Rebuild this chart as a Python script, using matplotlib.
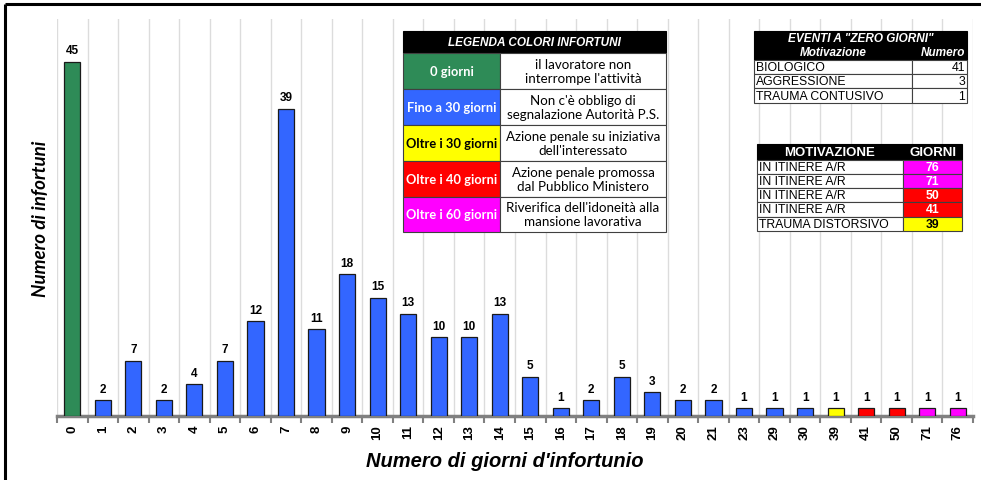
import matplotlib.pyplot as plt
from matplotlib.patches import Rectangle
from matplotlib.ticker import FixedLocator
import numpy as np

# giorni di infortunio e numero di infortuni
giorni = ['0', '1', '2', '3', '4', '5', '6', '7', '8', '9', '10', '11', '12', '13', '14',
          '15', '16', '17', '18', '19', '20', '21', '23', '29', '30', '39', '41', '50', '71', '76']
infortuni = [45, 2, 7, 2, 4, 7, 12, 39, 11, 18, 15, 13, 10, 10, 13,
             5, 1, 2, 5, 3, 2, 2, 1, 1, 1, 1, 1, 1, 1, 1]

# legenda colori
leg_classi = ['0 giorni', 'Fino a 30 giorni', 'Oltre i 30 giorni', 'Oltre i 40 giorni', 'Oltre i 60 giorni']
leg_descr = ["il lavoratore non\ninterrompe l'attività",
             "Non c'è obbligo di\nsegnalazione Autorità P.S.",
             "Azione penale su iniziativa\ndell'interessato",
             "Azione penale promossa\ndal Pubblico Ministero",
             "Riverifica dell'idoneità alla\nmansione lavorativa"]

# eventi a zero giorni
zero_motivi = ['BIOLOGICO', 'AGGRESSIONE', 'TRAUMA CONTUSIVO']
zero_numero = [41, 3, 1]

# infortuni piu lunghi
lunghi_motivi = ['IN ITINERE A/R', 'IN ITINERE A/R', 'IN ITINERE A/R', 'IN ITINERE A/R', 'TRAUMA DISTORSIVO']
lunghi_giorni = [76, 71, 50, 41, 39]

GREEN = '#2E8B57'
BLUE = '#3366FF'
YELLOW = '#FFFF00'
RED = '#FF0000'
MAGENTA = '#FF00FF'
leg_colori = [GREEN, BLUE, YELLOW, RED, MAGENTA]
leg_testo = ['white', 'white', 'black', 'white', 'white']


def colore(g):
    g = int(g)
    if g == 0:
        return GREEN
    if g <= 30:
        return BLUE
    if g < 40:
        return YELLOW
    if g < 60:
        return RED
    return MAGENTA


fig = plt.figure(figsize=(9.81, 4.81), dpi=100)
ax = fig.add_axes([57 / 981, 64 / 481, (973 - 57) / 981, (461 - 64) / 481])

x = np.arange(len(giorni))
colori = [colore(g) for g in giorni]
bars = ax.bar(x, infortuni, width=0.53, color=colori, edgecolor='#1a1a1a', linewidth=0.9, zorder=3)
for b, v in zip(bars, infortuni):
    ax.annotate(str(v), (b.get_x() + b.get_width() / 2, v), xytext=(0, 4), textcoords='offset points',
                ha='center', va='bottom', fontsize=8.5, fontweight='bold', family='Liberation Sans')

ax.set_xlim(-0.5, len(giorni) - 0.5)
ax.set_ylim(0, 50.4)
ax.set_xticks(x)
ax.set_xticklabels(giorni, rotation=90, fontsize=9.5, fontweight='bold', family='Liberation Sans')
ax.tick_params(axis='x', which='major', length=0, pad=6)
ax.xaxis.set_minor_locator(FixedLocator(np.arange(-0.5, len(giorni), 1)))
ax.tick_params(axis='x', which='minor', length=5, width=1.5, color='#808080')
ax.set_yticks([])
for s in ['top', 'right', 'left']:
    ax.spines[s].set_visible(False)
ax.spines['bottom'].set_color('#808080')
ax.spines['bottom'].set_linewidth(2.5)
ax.grid(axis='x', which='minor', color='#DCDCDC', linewidth=1, zorder=0)

ax.set_xlabel("Numero di giorni d'infortunio", fontsize=14.5, fontweight='bold', style='italic',
              family='Liberation Sans')
ax.xaxis.set_label_coords(0.489, -0.088)
ax.set_ylabel('Numero di infortuni', fontsize=13.5, fontweight='bold', style='italic',
              family='Lato', labelpad=6)

# overlay in pixel per tabelle e cornice
ov = fig.add_axes([0, 0, 1, 1], facecolor='none')
ov.set_xlim(0, 981)
ov.set_ylim(481, 0)
ov.axis('off')

# cornice
ov.plot([5, 981], [5, 5], color='black', lw=2.2, solid_capstyle='butt')
ov.plot([5, 5], [5, 481], color='black', lw=2.2, solid_capstyle='butt')


def cella(x0, y0, x1, y1, fc, ec='#404040', lw=0.8):
    ov.add_patch(Rectangle((x0, y0), x1 - x0, y1 - y0, facecolor=fc, edgecolor=ec, linewidth=lw, zorder=5))


# legenda colori
lx0, lx1, lxs = 403, 666, 500
cella(lx0, 32, lx1, 54, 'black', ec='black')
ov.text((lx0 + lx1) / 2, 43, 'LEGENDA COLORI INFORTUNI', color='white', ha='center', va='center',
        fontsize=8.5, style='italic', fontweight='bold', family='Liberation Sans', zorder=6)
righe = [54, 90, 126, 162, 198, 233]
for i in range(len(leg_classi)):
    y0, y1 = righe[i], righe[i + 1]
    cella(lx0, y0, lxs, y1, leg_colori[i])
    cella(lxs, y0, lx1, y1, 'white')
    ov.text((lx0 + lxs) / 2, (y0 + y1) / 2, leg_classi[i], color=leg_testo[i], ha='center', va='center',
            fontsize=9.3, fontweight='bold', family='Lato', zorder=6)
    ov.text((lxs + lx1) / 2, (y0 + y1) / 2, leg_descr[i], color='black', ha='center', va='center',
            fontsize=9.6, family='Lato', linespacing=1.2, zorder=6)

# eventi a zero giorni
zx0, zx1, zxs = 754, 967, 912
cella(zx0, 32, zx1, 61, 'black', ec='black')
ov.text((zx0 + zx1) / 2, 39, 'EVENTI A "ZERO GIORNI"', color='white', ha='center', va='center',
        fontsize=8.5, style='italic', fontweight='bold', family='Liberation Sans', zorder=6)
ov.text((zx0 + zxs) / 2, 53, 'Motivazione', color='white', ha='center', va='center',
        fontsize=8.5, style='italic', fontweight='bold', family='Liberation Sans', zorder=6)
ov.text(zx1 - 2, 53, 'Numero', color='white', ha='right', va='center',
        fontsize=8.5, style='italic', fontweight='bold', family='Liberation Sans', zorder=6)
zr = [61, 75, 89, 104]
for i in range(len(zero_motivi)):
    y0, y1 = zr[i], zr[i + 1]
    cella(zx0, y0, zxs, y1, 'white')
    cella(zxs, y0, zx1, y1, 'white')
    ov.text(zx0 + 2, (y0 + y1) / 2, zero_motivi[i], ha='left', va='center', fontsize=8.8,
            family='Liberation Sans', zorder=6)
    ov.text(zx1 - 2, (y0 + y1) / 2, str(zero_numero[i]), ha='right', va='center', fontsize=8.8,
            family='Liberation Sans', zorder=6)

# motivazione / giorni
mx0, mx1, mxs = 757, 962, 903
cella(mx0, 145, mx1, 161, 'black', ec='black')
ov.text((mx0 + mxs) / 2, 153, 'MOTIVAZIONE', color='white', ha='center', va='center',
        fontsize=9.5, fontweight='bold', family='Liberation Sans', zorder=6)
ov.text((mxs + mx1) / 2, 153, 'GIORNI', color='white', ha='center', va='center',
        fontsize=9.5, fontweight='bold', family='Liberation Sans', zorder=6)
mr = [161, 175, 189, 203, 218, 232]
for i in range(len(lunghi_motivi)):
    y0, y1 = mr[i], mr[i + 1]
    c = colore(lunghi_giorni[i])
    cella(mx0, y0, mxs, y1, 'white')
    cella(mxs, y0, mx1, y1, c)
    ov.text(mx0 + 2, (y0 + y1) / 2, lunghi_motivi[i], ha='left', va='center', fontsize=8.8,
            family='Liberation Sans', zorder=6)
    ov.text((mxs + mx1) / 2, (y0 + y1) / 2, str(lunghi_giorni[i]), ha='center', va='center',
            fontsize=8.8, fontweight='bold', family='Liberation Sans',
            color='black' if c == YELLOW else 'white', zorder=6)

fig.savefig('out.png', dpi=100)
